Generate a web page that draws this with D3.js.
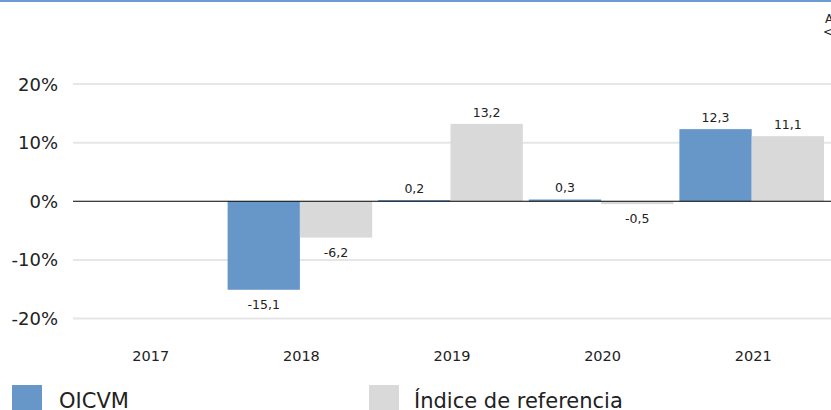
<!DOCTYPE html>
<html>
<head>
<meta charset="utf-8">
<script src="https://cdn.jsdelivr.net/npm/d3@7"></script>
<style>
  body { margin: 0; background: #fff; }
  svg { display: block; font-family: "DejaVu Sans", Verdana, sans-serif; }
</style>
</head>
<body>
<div id="chart"></div>
<script>
const years = ["2017", "2018", "2019", "2020", "2021"];
const oicvm = [null, -15.1, 0.2, 0.3, 12.3];
const indice = [null, -6.2, 13.2, -0.5, 11.1];
const seriesNames = ["OICVM", "Índice de referencia"];
const yTicks = [-20, -10, 0, 10, 20];

const colors = ["#6697c8", "#d9d9d9"];
const width = 831, height = 410;

const svg = d3.select("#chart").append("svg")
    .attr("width", width)
    .attr("height", height);

// top border
svg.append("rect")
    .attr("x", 0).attr("y", 0)
    .attr("width", width).attr("height", 2)
    .style("fill", "#6d9bd0");

const x = d3.scaleBand()
    .domain(years)
    .range([74, 827]);

const xs = d3.scaleBand()
    .domain(seriesNames)
    .range([3, x.bandwidth() - 3]);

const y = d3.scaleLinear()
    .domain([-20, 20])
    .range([318.5, 84]);

// gridlines
svg.append("g")
    .selectAll("line")
    .data(yTicks.filter(d => d !== 0))
    .enter().append("line")
    .attr("x1", 73).attr("x2", width)
    .attr("y1", d => y(d)).attr("y2", d => y(d))
    .style("stroke", "#e6e6e6")
    .style("stroke-width", 2);

// y labels
svg.append("g")
    .selectAll("text")
    .data(yTicks)
    .enter().append("text")
    .attr("x", 58)
    .attr("y", d => y(d) + 6.5)
    .attr("text-anchor", "end")
    .style("font-size", "18px")
    .style("fill", "#222")
    .text(d => d + "%");

const rows = years.map((yr, i) => ({ year: yr, values: [oicvm[i], indice[i]] }));
// comma decimals, plain hyphen for negatives
const fmt = v => d3.format(".1f")(v).replace("\u2212", "-").replace(".", ",");

const groups = svg.append("g")
    .selectAll("g")
    .data(rows)
    .enter().append("g")
    .attr("transform", d => "translate(" + x(d.year) + ",0)");

const cells = groups.selectAll("g")
    .data(d => d.values.map((v, j) => ({ key: seriesNames[j], v: v, j: j })).filter(c => c.v !== null))
    .enter().append("g");

cells.append("rect")
    .attr("x", d => xs(d.key))
    .attr("width", xs.bandwidth())
    .attr("y", d => y(Math.max(0, d.v)))
    .attr("height", d => Math.abs(y(d.v) - y(0)))
    .style("fill", d => colors[d.j]);

cells.append("text")
    .attr("x", d => xs(d.key) + xs.bandwidth() / 2)
    .attr("y", d => d.v >= 0 ? y(d.v) - 7 : y(d.v) + 19)
    .attr("text-anchor", "middle")
    .style("font-size", "12.5px")
    .style("fill", "#222")
    .text(d => fmt(d.v));

// zero line
svg.append("line")
    .attr("x1", 73).attr("x2", width)
    .attr("y1", y(0)).attr("y2", y(0))
    .style("stroke", "#000")
    .style("stroke-width", 1);

// x labels
svg.append("g")
    .selectAll("text")
    .data(years)
    .enter().append("text")
    .attr("x", d => x(d) + x.bandwidth() / 2 + 1.5)
    .attr("y", 361)
    .attr("text-anchor", "middle")
    .style("font-size", "14.5px")
    .style("fill", "#222")
    .text(d => d);

// legend
const legendX = [12, 369];
const legend = svg.append("g")
    .selectAll("g")
    .data(seriesNames)
    .enter().append("g")
    .attr("transform", (d, i) => "translate(" + legendX[i] + ",0)");

legend.append("rect")
    .attr("x", 0).attr("y", 385)
    .attr("width", 30).attr("height", 26)
    .style("fill", (d, i) => colors[i]);

legend.append("text")
    .attr("x", (d, i) => i === 0 ? 47 : 45)
    .attr("y", 408)
    .style("font-size", "21px")
    .style("fill", "#222")
    .text(d => d);

// clipped toolbar glyphs at top right
svg.append("text")
    .attr("x", 825).attr("y", 23)
    .style("font-size", "12px")
    .style("fill", "#222")
    .text("A");
svg.append("text")
    .attr("x", 823).attr("y", 36)
    .style("font-size", "12px")
    .style("fill", "#222")
    .text("<");
</script>
</body>
</html>
